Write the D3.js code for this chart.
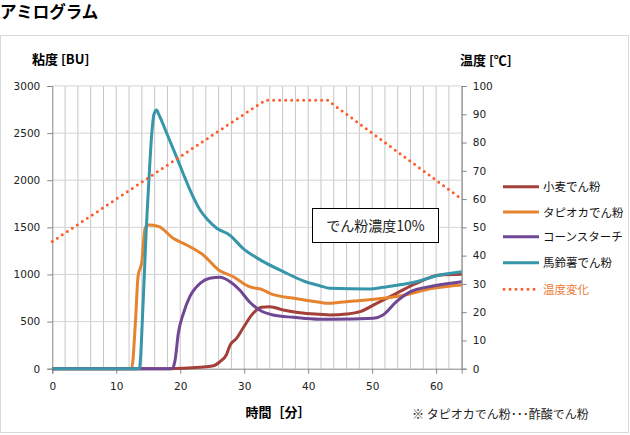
<!DOCTYPE html>
<html>
<head>
<meta charset="utf-8">
<script src="https://cdn.jsdelivr.net/npm/d3@7"></script>
<style>
  body { margin: 0; background: #fff; }
  text { font-family: "Noto Sans CJK JP", sans-serif; }
  .num { font-family: "DejaVu Sans", sans-serif; font-size: 10.5px; fill: #222; }
</style>
</head>
<body>
<script>
// 時間[分] vs 粘度[BU]
var wheat = [[0,0],[18,0],[23.1,15],[25.2,32],[26.2,74],[27.2,145],[27.8,251],[28.8,322],[29.8,429],[31.4,588],[32.7,651],[34,658],[36.1,623],[38.7,594],[41.8,577],[43.4,570],[46,580],[48.1,605],[50.7,694],[53.8,800],[56.9,906],[60.6,994],[64,1002]]
var tapioca = [[0,0],[12.4,0],[13,500],[13.4,976],[14,1136],[14.5,1490],[15,1525],[16.6,1510],[18.9,1384],[21,1313],[23.6,1207],[26,1048],[28.3,976],[30.8,870],[33,835],[34,800],[38,745],[41.8,705],[43.1,694],[45,705],[49.1,729],[54.3,771],[59.5,853],[64,888]]
var corn = [[0,0],[18.75,0],[19.2,92],[19.7,376],[20.5,588],[21.5,764],[23.1,906],[24.6,959],[26.2,970],[27.8,923],[29.3,835],[30.8,711],[32.4,623],[34.5,570],[37.7,545],[41.8,524],[43.9,524],[50.2,535],[51.7,570],[53.8,711],[56,817],[59.5,877],[64,923]]
var potato = [[0,0],[13.6,0],[14.2,700],[14.7,1500],[15.1,2000],[15.5,2450],[15.9,2700],[16.3,2745],[16.7,2690],[18,2480],[19.4,2250],[20.7,2030],[22,1826],[23.1,1684],[24.3,1580],[25.7,1490],[27.7,1419],[29.8,1278],[33,1136],[36.1,1030],[39.5,925],[41.8,881],[43.4,853],[49.6,846],[51.7,864],[56.9,923],[60.6,994],[64,1030]]
// 時間[分] vs 温度[℃]
var temp = [[0,45],[33.3,95],[43,95],[64,60]]

var seriesNames = ["小麦でん粉", "タピオカでん粉", "コーンスターチ", "馬鈴薯でん粉"]
var seriesColors = ["#a3403a", "#e5832f", "#704795", "#3796aa"]
var tempColor = "#ff5a2a"

var xTicks = [0, 10, 20, 30, 40, 50, 60]
var yTicks = [0, 500, 1000, 1500, 2000, 2500, 3000]
var tTicks = [0, 10, 20, 30, 40, 50, 60, 70, 80, 90, 100]

var svg = d3.select("body").append("svg")
  .attr('width', 630)
  .attr('height', 435)

var x = d3.scaleLinear().domain([0, 64]).range([52.3, 461.7])
var y = d3.scaleLinear().domain([0, 3000]).range([368.7, 86])
var yt = d3.scaleLinear().domain([0, 100]).range([368.7, 86])

// title and panel
svg.append("text").attr("x", 0).attr("y", 18)
  .style("font-size", "16.5px").style("font-weight", "bold").text("アミログラム")
svg.append("rect").attr("x", 0.5).attr("y", 35.5).attr("width", 628).attr("height", 397)
  .attr("fill", "none").attr("stroke", "#d9d9d9")

// grid
svg.append("g").selectAll("line").data(d3.range(2, 65, 2)).enter().append("line")
  .attr("x1", function(d) { return x(d) }).attr("x2", function(d) { return x(d) })
  .attr("y1", y(0)).attr("y2", y(3000))
  .attr("stroke", "#c6c6c6")
svg.append("g").selectAll("line").data(yTicks.slice(1)).enter().append("line")
  .attr("x1", x(0)).attr("x2", x(64))
  .attr("y1", function(d) { return y(d) }).attr("y2", function(d) { return y(d) })
  .attr("stroke", "#d4d4d4")

// axes
var fmt = d3.format("d")
var gx = svg.append("g").attr("transform", "translate(0," + y(0) + ")")
  .call(d3.axisBottom(x).tickValues(xTicks).tickFormat(fmt).tickSize(5).tickPadding(9))
var gy = svg.append("g").attr("transform", "translate(" + x(0) + ",0)")
  .call(d3.axisLeft(y).tickValues(yTicks).tickFormat(fmt).tickSize(5).tickPadding(7))
var gt = svg.append("g").attr("transform", "translate(" + x(64) + ",0)")
  .call(d3.axisRight(yt).tickValues(tTicks).tickFormat(fmt).tickSize(5).tickPadding(6))
;[gx, gy, gt].forEach(function(g) {
  g.select(".domain").attr("stroke", "#868686")
  g.selectAll(".tick line").attr("stroke", "#868686")
  g.selectAll(".tick text").attr("class", "num").attr("fill", "#222")
})

// axis titles
svg.append("text").attr("x", 32).attr("y", 64).style("font-size", "13px").style("font-weight", "bold").text("粘度 [BU]")
svg.append("text").attr("x", 460).attr("y", 65).style("font-size", "13px").style("font-weight", "bold").text("温度 [℃]")
svg.append("text").attr("x", 278).attr("y", 417).attr("text-anchor", "middle").style("font-size", "13px").style("font-weight", "bold").text("時間［分］")
svg.append("text").attr("x", 412).attr("y", 419).style("font-size", "12px").attr("fill", "#222").text("※ タピオカでん粉･･･酢酸でん粉")

// lines
var line = d3.line()
  .x(function(d) { return x(d[0]) })
  .y(function(d) { return y(d[1]) })
  .curve(d3.curveMonotoneX)

;[wheat, tapioca, corn, potato].forEach(function(s, i) {
  svg.append("path").datum(s)
    .attr("d", line)
    .attr("fill", "none")
    .attr("stroke", seriesColors[i])
    .attr("stroke-width", 3)
    .attr("stroke-linejoin", "round")
})

var tline = d3.line()
  .x(function(d) { return x(d[0]) })
  .y(function(d) { return yt(d[1]) })
svg.append("path").datum(temp)
  .attr("d", tline)
  .attr("fill", "none")
  .attr("stroke", tempColor)
  .attr("stroke-width", 3)
  .attr("stroke-linecap", "round")
  .attr("stroke-dasharray", "0 6")

// note box
svg.append("rect").attr("x", 312.5).attr("y", 208.5).attr("width", 126).attr("height", 34)
  .attr("fill", "#fff").attr("stroke", "#000")
svg.append("text").attr("x", 375.5).attr("y", 230.5).attr("text-anchor", "middle")
  .style("font-size", "14px").attr("fill", "#222").text("でん粉濃度10%")

// legend
var legendY = [186.7, 212, 236.7, 262.7]
var lg = svg.append("g")
seriesNames.forEach(function(n, i) {
  lg.append("line").attr("x1", 503).attr("x2", 539).attr("y1", legendY[i]).attr("y2", legendY[i])
    .attr("stroke", seriesColors[i]).attr("stroke-width", 3)
  lg.append("text").attr("x", 543).attr("y", legendY[i] + 4.5).style("font-size", "11.5px").attr("fill", "#111").text(n)
})
lg.append("line").attr("x1", 504).attr("x2", 539).attr("y1", 289.3).attr("y2", 289.3)
  .attr("stroke", tempColor).attr("stroke-width", 3)
  .attr("stroke-linecap", "round").attr("stroke-dasharray", "0 6")
lg.append("text").attr("x", 543).attr("y", 293.8).style("font-size", "11.5px").attr("fill", "#ec7a35").text("温度変化")
</script>
</body>
</html>
